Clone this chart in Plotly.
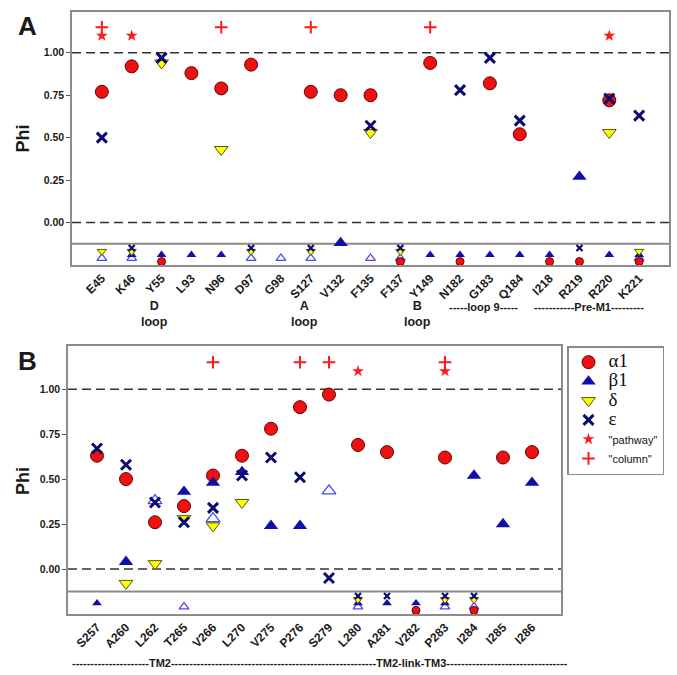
import plotly.graph_objects as go

# ---------------- data: panel A ----------------
cats_A = ["E45", "K46", "Y55", "L93", "N96", "D97", "G98", "S127", "V132", "F135",
          "F137", "Y149", "N182", "G183", "Q184", "I218", "R219", "R220", "K221"]
alpha1_A = [0.77, 0.92, None, 0.88, 0.79, 0.93, None, 0.77, 0.75, 0.75,
            None, 0.94, None, 0.82, 0.52, None, None, 0.72, None]
beta1_A = [None, None, None, None, None, None, None, None, -0.12, None,
           None, None, None, None, None, None, 0.27, None, None]
delta_A = [None, None, 0.94, None, 0.43, None, None, None, None, 0.53,
           None, None, None, None, None, None, None, 0.53, None]
eps_A = [0.50, None, 0.97, None, None, None, None, None, None, 0.57,
         None, None, 0.78, 0.97, 0.60, None, None, 0.73, 0.63]
open_A = [None] * 19
pathway_A = ["E45", "K46", "R220"]
column_A = ["E45", "N96", "S127", "Y149"]
# residues shown in the bottom strip (below the solid line)
alpha1_A_strip = ["Y55", "F137", "N182", "I218", "R219", "K221"]
beta1_A_strip = ["K46", "Y55", "L93", "N96", "Y149", "N182", "G183", "Q184", "I218", "R220", "K221"]
delta_A_strip = ["E45", "K46", "D97", "S127", "F137", "K221"]
eps_A_strip = ["K46", "D97", "S127", "F137", "R219"]
open_A_strip = ["E45", "K46", "D97", "G98", "S127", "F135", "F137", "K221"]

# ---------------- data: panel B ----------------
cats_B = ["S257", "A260", "L262", "T265", "V266", "L270", "V275", "P276", "S279",
          "L280", "A281", "V282", "P283", "I284", "I285", "I286"]
alpha1_B = [0.63, 0.50, 0.26, 0.35, 0.52, 0.63, 0.78, 0.90, 0.97,
            0.69, 0.65, None, 0.62, None, 0.62, 0.65]
beta1_B = [None, 0.04, None, 0.43, 0.48, 0.54, 0.24, 0.24, None,
           None, None, None, None, 0.52, 0.25, 0.48]
delta_B = [None, -0.08, 0.03, 0.28, 0.24, 0.37, None, None, None,
           None, None, None, None, None, None, None]
eps_B = [0.67, 0.58, 0.37, 0.26, 0.34, 0.52, 0.62, 0.51, -0.05,
         None, None, None, None, None, None, None]
open_B = [None, None, 0.38, None, 0.28, None, None, None, 0.435,
          None, None, None, None, None, None, None]
pathway_B = ["L280", "P283"]
column_B = ["V266", "P276", "S279", "P283"]
alpha1_B_strip = ["V282", "I284"]
beta1_B_strip = ["S257", "L280", "A281", "V282", "P283"]
delta_B_strip = ["L280", "P283", "I284"]
eps_B_strip = ["L280", "A281", "P283", "I284"]
open_B_strip = ["T265", "L280", "P283", "I284"]

# ---------------- styles ----------------
STRIP_LEVEL = {"eps": -0.15, "delta": -0.17, "beta1": -0.19, "open": -0.21, "alpha1": -0.23}
PATHWAY_LEVEL, COLUMN_LEVEL = 1.10, 1.15

RED, BLUE, NAVY, YEL, OPENB = "#EE1111", "#1010A8", "#0B0B6E", "#FFFF00", "#4848FF"


def mk(kind, small=False):
    if kind == "alpha1":
        return dict(symbol="circle", color=RED, size=8 if small else 13,
                    line=dict(color="#6a0000", width=1))
    if kind == "beta1":
        return dict(symbol="triangle-up", color=BLUE, size=8.5 if small else 12.5,
                    line=dict(color=BLUE, width=0))
    if kind == "delta":
        return dict(symbol="triangle-down", color=YEL, size=8 if small else 12,
                    line=dict(color="#55550f", width=1))
    if kind == "eps":
        return dict(symbol="x-thin", color=NAVY, size=6 if small else 10,
                    line=dict(color=NAVY, width=2.2 if small else 3))
    if kind == "open":
        return dict(symbol="triangle-up-open", color=OPENB, size=8.5 if small else 12,
                    line=dict(color=OPENB, width=1.3))
    if kind == "pathway":
        return dict(symbol="star", color="#FF1A1A", size=9, line=dict(width=0))
    if kind == "column":
        return dict(symbol="cross-thin", color="#FF1A1A", size=9,
                    line=dict(color="#FF1A1A", width=2))


def big(t):
    return '<span style="font-size:19px">%s</span>' % t


def small(t):
    return '<span style="font-family:Liberation Sans;font-size:11px">%s</span>' % t


NAMES = {"alpha1": big("α1"), "beta1": big("β1"), "delta": big("δ"), "eps": big("ε"),
         "pathway": small('"pathway"'), "column": small('"column"')}

fig = go.Figure()


def add_panel(cats, series, strips, pathway, column, xa, ya, legend):
    # strip markers first (drawn underneath)
    for kind in ["open", "alpha1", "beta1", "delta", "eps"]:
        members = strips[kind]
        if members:
            fig.add_trace(go.Scatter(x=members, y=[STRIP_LEVEL[kind]] * len(members),
                                     mode="markers", marker=mk(kind, small=True),
                                     xaxis=xa, yaxis=ya, showlegend=False,
                                     hoverinfo="skip"))
    for kind in ["open", "alpha1", "beta1", "delta", "eps"]:
        vals = series[kind]
        xs = [c for c, v in zip(cats, vals) if v is not None]
        ys = [v for v in vals if v is not None]
        fig.add_trace(go.Scatter(x=xs, y=ys, mode="markers", marker=mk(kind),
                                 name=NAMES.get(kind, kind), legendgroup=kind,
                                 showlegend=legend and kind != "open",
                                 legendrank={"alpha1": 1, "beta1": 2, "delta": 3, "eps": 4}.get(kind, 9),
                                 xaxis=xa, yaxis=ya))
    fig.add_trace(go.Scatter(x=pathway, y=[PATHWAY_LEVEL] * len(pathway), mode="markers",
                             marker=mk("pathway"), name=NAMES["pathway"], legendgroup="pathway",
                             showlegend=legend, legendrank=5, xaxis=xa, yaxis=ya))
    fig.add_trace(go.Scatter(x=column, y=[COLUMN_LEVEL] * len(column), mode="markers",
                             marker=mk("column"), name=NAMES["column"], legendgroup="column",
                             showlegend=legend, legendrank=6, xaxis=xa, yaxis=ya))


add_panel(cats_A,
          {"alpha1": alpha1_A, "beta1": beta1_A, "delta": delta_A, "eps": eps_A, "open": open_A},
          {"alpha1": alpha1_A_strip, "beta1": beta1_A_strip, "delta": delta_A_strip,
           "eps": eps_A_strip, "open": open_A_strip},
          pathway_A, column_A, "x", "y", True)
add_panel(cats_B,
          {"alpha1": alpha1_B, "beta1": beta1_B, "delta": delta_B, "eps": eps_B, "open": open_B},
          {"alpha1": alpha1_B_strip, "beta1": beta1_B_strip, "delta": delta_B_strip,
           "eps": eps_B_strip, "open": open_B_strip},
          pathway_B, column_B, "x2", "y2", False)

W, H = 677, 675
yticks = [0, 0.25, 0.5, 0.75, 1.0]


def xax(cats, dom):
    return dict(domain=dom, type="category", categoryorder="array", categoryarray=cats,
                range=[-1, len(cats)], tickangle=-45, showline=True, mirror=True,
                linecolor="#8c8c8c", linewidth=1.5, ticks="", showgrid=False,
                zeroline=False, tickfont=dict(family="Liberation Sans", size=12,
                                              color="#1a1a1a", weight="bold"))


def yax(dom):
    return dict(domain=dom, range=[-0.25, 1.24], tickvals=yticks,
                ticktext=["%.2f" % v for v in yticks], ticks="outside", ticklen=4,
                tickcolor="#555", showline=True, mirror=True, linecolor="#8c8c8c",
                linewidth=1.5, showgrid=False, zeroline=False,
                tickfont=dict(family="Liberation Sans", size=10.5, color="#1a1a1a",
                              weight="bold"))


xA = xax(cats_A, [72 / W, 669 / W])
yA = yax([1 - 265 / H, 1 - 12 / H])
xB = xax(cats_B, [68 / W, 561 / W])
yB = yax([1 - 614 / H, 1 - 346 / H])
xA["anchor"] = "y"
yA["anchor"] = "x"
xB["anchor"] = "y2"
yB["anchor"] = "x2"

shapes = []
for xr, yr in [("x domain", "y"), ("x2 domain", "y2")]:
    for lvl in [1.0, 0.0]:
        shapes.append(dict(type="line", xref=xr, yref=yr, x0=0, x1=1, y0=lvl, y1=lvl,
                           line=dict(color="#333", width=1.5, dash="9px,5px"), layer="below"))
    shapes.append(dict(type="line", xref=xr, yref=yr, x0=0, x1=1, y0=-0.125, y1=-0.125,
                       line=dict(color="#8a8a8a", width=2), layer="below"))

LBL = dict(family="Liberation Sans", size=12.5, color="#1a1a1a", weight="bold")


def ann(text, px, py, size=None, angle=0):
    f = dict(LBL)
    if size:
        f["size"] = size
    return dict(text=text, x=px / W, y=1 - py / H, xref="paper", yref="paper",
                showarrow=False, font=f, textangle=angle, xanchor="center", yanchor="middle")


annotations = [
    ann("A", 27, 26, size=26),
    ann("B", 27, 361, size=26),
    ann("Phi", 23, 138.5, size=18, angle=-90),
    ann("Phi", 23, 481, size=18, angle=-90),
    ann("D<br>loop", 154, 314),
    ann("A<br>loop", 304, 314),
    ann("B<br>loop", 417, 314),
    ann("-----loop 9-----", 483, 307, size=11),
    ann("-----------Pre-M1---------", 589, 307, size=11),
    ann("-" * 21 + "TM2" + "-" * 56 + "TM2-link-TM3" + "-" * 33, 319.5, 663, size=11),
]

fig.update_layout(
    width=W, height=H, margin=dict(l=0, r=0, t=0, b=0),
    paper_bgcolor="white", plot_bgcolor="white",
    xaxis=xA, yaxis=yA, xaxis2=xB, yaxis2=yB,
    shapes=shapes, annotations=annotations,
    legend=dict(x=567 / W, y=1 - 346 / H, xanchor="left", yanchor="top",
                bgcolor="white", bordercolor="#8c8c8c", borderwidth=1.5,
                font=dict(family="Liberation Serif", size=12.5, color="#111"),
                tracegroupgap=0, itemwidth=30),
    showlegend=True,
)

fig.write_html("out.html", config={"displayModeBar": False},
               post_script="document.body.style.margin='0px';document.body.style.overflow='hidden';")
